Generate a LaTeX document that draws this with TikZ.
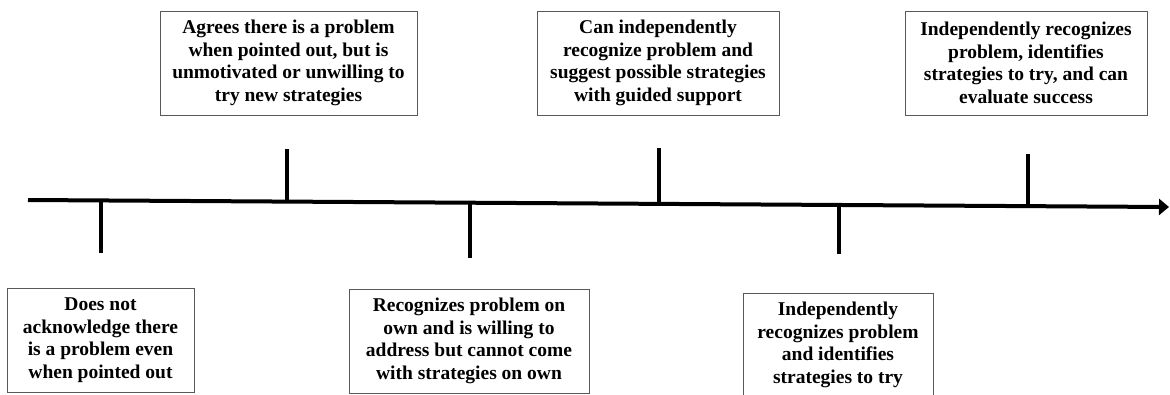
\documentclass[tikz,border=0pt]{standalone}
\usepackage{fontspec}
\setmainfont{Liberation Serif}
\usetikzlibrary{arrows.meta}
\begin{document}
\begin{tikzpicture}[x=1pt,y=-1pt,
  box/.style={draw=black!65, line width=1pt, align=center,
    font=\bfseries\fontsize{19.5}{22.5}\selectfont, inner sep=0pt,
    minimum height=104pt},
  axis/.style={line width=4pt, -{Triangle[length=10pt,width=16pt]}},
  tickmark/.style={line width=3.5pt}]
\useasboundingbox (0,0) rectangle (1170,394);
\clip (0,0) rectangle (1170,394);
% boxes
\node[box, minimum width=257pt] (a) at (288.5,63) {Agrees there is a problem\\when pointed out, but is\\unmotivated or unwilling to\\try new strategies};
\node[box, minimum width=242pt] (b) at (658,63) {Can independently\\recognize problem and\\suggest possible strategies\\with guided support};
\node[box, minimum width=242pt] (c) at (1026,63) {Independently recognizes\\problem, identifies\\strategies to try, and can\\evaluate success};
\node[box, minimum width=187pt] (d) at (100.5,340) {Does not\\acknowledge there\\is a problem even\\when pointed out};
\node[box, minimum width=240pt] (e) at (469,341) {Recognizes problem on\\own and is willing to\\address but cannot come\\with strategies on own};
\node[box, minimum width=190pt] (f) at (838,345) {Independently\\recognizes problem\\and identifies\\strategies to try};
% axis
\coordinate (start) at (28,200);
\coordinate (tip) at (1169,207);
\draw[axis] (start) -- (tip);
% ticks
\coordinate (t1) at (101,200.4);  \coordinate (t1e) at (101,253);
\coordinate (t2) at (287,201.6);  \coordinate (t2e) at (287,149);
\coordinate (t3) at (470,202.7);  \coordinate (t3e) at (470,258);
\coordinate (t4) at (659,203.9);  \coordinate (t4e) at (659,148);
\coordinate (t5) at (839,205.0);  \coordinate (t5e) at (839,254);
\coordinate (t6) at (1028,206.1); \coordinate (t6e) at (1028,154);
\draw[tickmark] (t1) -- (t1e);
\draw[tickmark] (t2) -- (t2e);
\draw[tickmark] (t3) -- (t3e);
\draw[tickmark] (t4) -- (t4e);
\draw[tickmark] (t5) -- (t5e);
\draw[tickmark] (t6) -- (t6e);
\end{tikzpicture}
\end{document}
